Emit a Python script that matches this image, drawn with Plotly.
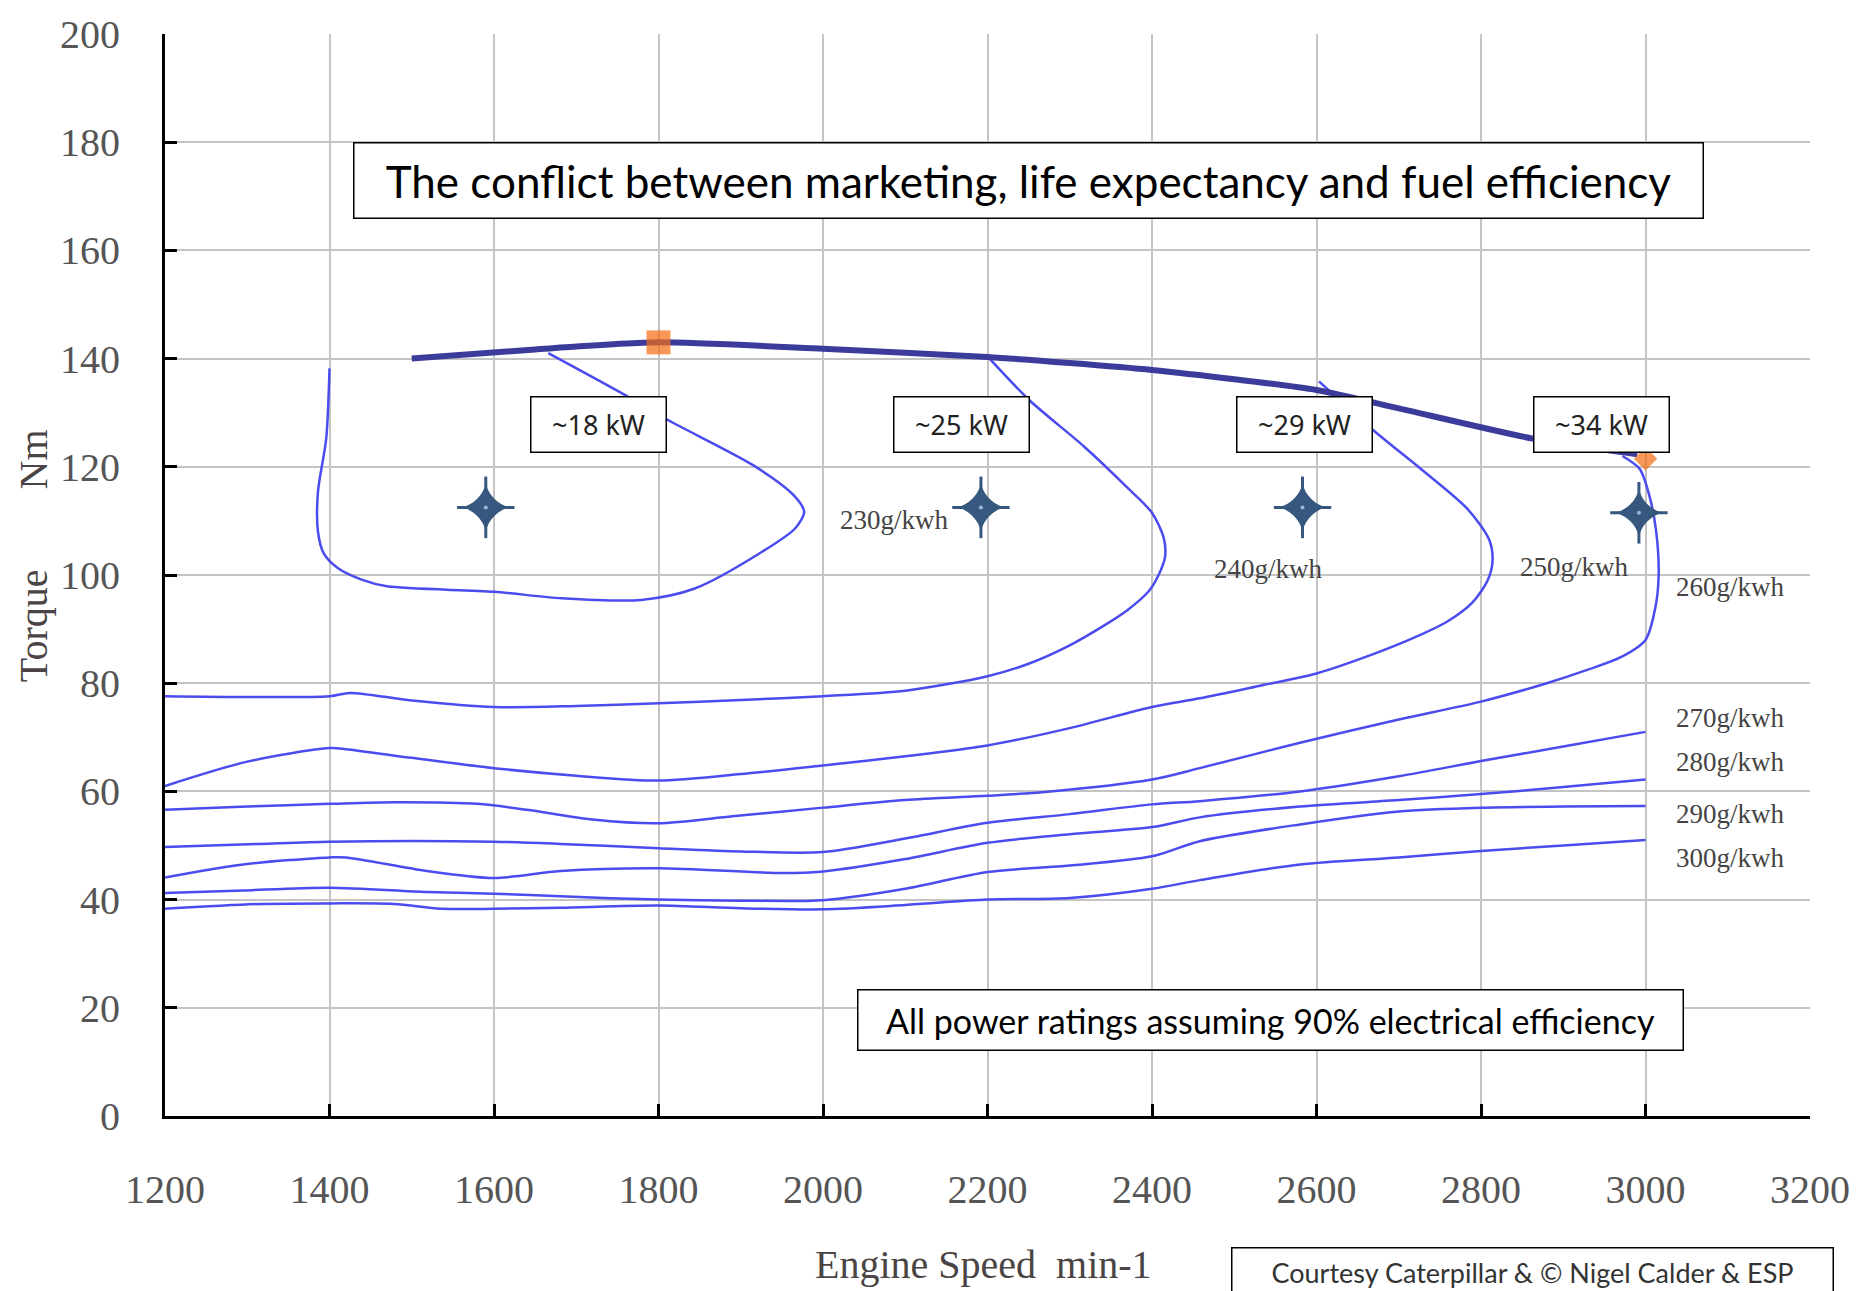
import plotly.graph_objects as go

# ---- axes -------------------------------------------------------------
x_ticks = [1200, 1400, 1600, 1800, 2000, 2200, 2400, 2600, 2800, 3000, 3200]
y_ticks = [0, 20, 40, 60, 80, 100, 120, 140, 160, 180, 200]

# ---- full-load (maximum torque) curve --------------------------------
max_speed = [1500, 1650, 1800, 2000, 2200, 2400, 2600, 2700, 2863, 2990]
max_torque = [140.0, 141.7, 143.0, 141.8, 140.3, 137.9, 134.2, 130.8, 125.2, 122.3]

# ---- specific fuel consumption contours (g/kWh) ----------------------
bsfc_230_speed = [1400, 1396, 1386, 1386, 1393, 1410, 1440, 1470, 1600, 1682, 1779, 1844,
                  1926, 1966, 1977, 1964, 1915, 1812, 1760, 1666]
bsfc_230_torque = [138.2, 125.2, 115.4, 108.0, 104.0, 101.3, 99.1, 97.9, 96.9, 95.7, 95.4, 97.5,
                   104.3, 108.6, 111.7, 114.8, 120.3, 128.6, 133.2, 141.0]

bsfc_240_speed = [1200, 1400, 1425, 1500, 1600, 1700, 1800, 1900, 2000, 2100, 2200,
                  2250, 2300, 2340, 2370, 2396, 2408, 2416, 2414, 2400, 2371, 2317, 2251, 2200]
bsfc_240_torque = [77.6, 77.6, 78.2, 76.8, 75.6, 75.8, 76.3, 76.9, 77.6, 78.6, 81.3,
                   83.6, 87.0, 90.5, 93.5, 97.0, 100.0, 103.5, 107.0, 111.5, 116.0, 123.8, 132.3, 140.4]

bsfc_250_speed = [1200, 1300, 1400, 1420, 1500, 1600, 1700, 1800, 1900, 2000, 2100,
                  2200, 2300, 2400, 2458, 2530, 2600, 2673, 2720, 2760, 2790, 2808,
                  2814, 2810, 2783, 2727, 2672, 2603]
bsfc_250_torque = [61.0, 65.5, 68.0, 67.8, 66.2, 64.3, 62.9, 62.0, 63.2, 64.8, 66.5,
                   68.5, 71.7, 75.6, 77.2, 79.5, 81.8, 85.6, 88.5, 91.5, 95.0, 99.0,
                   102.5, 106.5, 112.3, 119.6, 126.4, 135.8]

bsfc_260_speed = [1200, 1300, 1400, 1480, 1580, 1640, 1720, 1800, 1890, 2000, 2100,
                  2200, 2270, 2400, 2458, 2580, 2700, 2800, 2880, 2930, 2970, 3000,
                  3012, 3016, 3013, 3005, 2993, 2972]
bsfc_260_torque = [56.6, 57.2, 57.7, 58.0, 57.7, 56.6, 54.8, 54.1, 55.4, 57.0, 58.4,
                   59.2, 59.9, 62.2, 64.3, 69.0, 73.3, 76.6, 80.0, 82.5, 84.8, 88.0,
                   94.0, 100.0, 108.0, 114.5, 119.6, 122.0]

bsfc_270_speed = [1200, 1316, 1400, 1600, 1681, 1800, 1900, 2000, 2100, 2200, 2300,
                  2400, 2458, 2580, 2700, 2800, 2900, 3000]
bsfc_270_torque = [49.7, 50.3, 50.7, 50.7, 50.3, 49.5, 48.9, 48.8, 51.3, 54.2, 55.8,
                   57.6, 58.2, 60.0, 62.8, 65.6, 68.3, 71.0]

bsfc_280_speed = [1200, 1295, 1400, 1420, 1518, 1600, 1681, 1800, 1950, 2000, 2100,
                  2200, 2300, 2400, 2458, 2580, 2700, 2800, 2900, 3000]
bsfc_280_torque = [44.1, 46.5, 47.8, 47.8, 45.3, 44.0, 45.3, 45.8, 44.9, 45.2, 47.5,
                   50.5, 52.1, 53.4, 55.2, 57.2, 58.4, 59.5, 60.8, 62.2]

bsfc_290_speed = [1200, 1295, 1400, 1518, 1600, 1681, 1800, 1900, 2000, 2100, 2200,
                  2300, 2400, 2458, 2580, 2700, 2800, 2900, 3000]
bsfc_290_torque = [41.2, 41.7, 42.2, 41.4, 41.1, 40.6, 40.0, 39.8, 39.9, 42.0, 45.1,
                   46.3, 48.0, 50.8, 53.9, 56.3, 57.0, 57.2, 57.3]

bsfc_300_speed = [1200, 1316, 1400, 1478, 1539, 1600, 1681, 1800, 1900, 2000, 2100,
                  2200, 2300, 2400, 2458, 2580, 2700, 2800, 2900, 3000]
bsfc_300_torque = [38.3, 39.2, 39.3, 39.2, 38.3, 38.3, 38.5, 38.9, 38.4, 38.2, 39.0,
                   40.0, 40.3, 42.0, 43.6, 46.5, 47.8, 49.0, 50.0, 51.0]

contour_labels = ["230g/kwh", "240g/kwh", "250g/kwh", "260g/kwh",
                  "270g/kwh", "280g/kwh", "290g/kwh", "300g/kwh"]
contour_label_speed = [2087, 2542, 2914, 3103, 3103, 3103, 3103, 3103]
contour_label_torque = [110.2, 101.2, 101.5, 97.8, 73.5, 65.4, 55.8, 47.7]

# ---- operating points ------------------------------------------------
rated_speed = [1800, 3000]
rated_torque = [143.0, 121.5]
rated_symbols = ["square", "diamond"]

star_speed = [1590, 2192, 2583, 2992]
star_torque = [112.5, 112.5, 112.5, 111.5]

power_labels = ["~18 kW", "~25 kW", "~29 kW", "~34 kW"]
power_label_speed = [1727, 2168, 2585, 2946]
power_label_torque = [127.9, 127.9, 127.9, 127.9]

title_text = "The conflict between marketing, life expectancy and fuel efficiency"
note_text = "All power ratings assuming 90% electrical efficiency"
credit_text = "Courtesy Caterpillar & \u00a9 Nigel Calder & ESP"

# ---- styling ---------------------------------------------------------
CONTOUR_BLUE = "#4b4bef"
MAX_BLUE = "#3b3b9c"
STAR_BLUE = "#36587e"
ORANGE = "#f36c12"
TICK_FONT = "Liberation Serif, serif"
AXIS_FONT = "Liberation Serif, DejaVu Serif, serif"
BOX_FONT = "Lato, Open Sans, sans-serif"
SMALL_BOX_FONT = "Noto Sans, Open Sans, sans-serif"

fig = go.Figure()

contours = [
    (bsfc_230_speed, bsfc_230_torque),
    (bsfc_240_speed, bsfc_240_torque),
    (bsfc_250_speed, bsfc_250_torque),
    (bsfc_260_speed, bsfc_260_torque),
    (bsfc_270_speed, bsfc_270_torque),
    (bsfc_280_speed, bsfc_280_torque),
    (bsfc_290_speed, bsfc_290_torque),
    (bsfc_300_speed, bsfc_300_torque),
]
for sx, ty in contours:
    fig.add_trace(go.Scatter(
        x=sx, y=ty, mode="lines",
        line=dict(color=CONTOUR_BLUE, width=2.5, shape="spline", smoothing=0.8),
        hoverinfo="skip",
    ))

fig.add_trace(go.Scatter(
    x=max_speed, y=max_torque, mode="lines",
    line=dict(color=MAX_BLUE, width=6, shape="spline", smoothing=0.6),
    hoverinfo="skip",
))

fig.add_trace(go.Scatter(
    x=rated_speed, y=rated_torque, mode="markers",
    marker=dict(symbol=rated_symbols, size=[24, 18], color=ORANGE, line=dict(width=0)),
    hoverinfo="skip",
))

# four-pointed stars: a concave body plus thin arms
fig.add_trace(go.Scatter(
    x=star_speed, y=star_torque, mode="markers",
    marker=dict(symbol="line-ns", size=44, color=STAR_BLUE,
                line=dict(width=3, color=STAR_BLUE)),
    hoverinfo="skip",
))
fig.add_trace(go.Scatter(
    x=star_speed, y=star_torque, mode="markers",
    marker=dict(symbol="line-ew", size=41, color=STAR_BLUE,
                line=dict(width=3, color=STAR_BLUE)),
    hoverinfo="skip",
))
fig.add_trace(go.Scatter(
    x=star_speed, y=star_torque, mode="markers",
    marker=dict(symbol="star-diamond", size=34, color=STAR_BLUE, line=dict(width=0)),
    hoverinfo="skip",
))
fig.add_trace(go.Scatter(
    x=star_speed, y=star_torque, mode="markers",
    marker=dict(symbol="circle", size=4, color="#9ab8d8", line=dict(width=0)),
    hoverinfo="skip",
))

annotations = []
for txt, sx, ty in zip(contour_labels, contour_label_speed, contour_label_torque):
    annotations.append(dict(
        x=sx, y=ty, xref="x", yref="y", text=txt, showarrow=False,
        font=dict(family=TICK_FONT, size=27, color="#444444"),
    ))

for txt, sx, ty in zip(power_labels, power_label_speed, power_label_torque):
    annotations.append(dict(
        x=sx, y=ty, xref="x", yref="y", text=txt, showarrow=False,
        font=dict(family=SMALL_BOX_FONT, size=27, color="#222222"),
        bgcolor="white", bordercolor="black", borderwidth=1.5, borderpad=0,
        width=134, height=54,
    ))

annotations.append(dict(
    x=2250, y=173.0, xref="x", yref="y", text=title_text, showarrow=False,
    font=dict(family=BOX_FONT, size=44, color="black"),
    bgcolor="white", bordercolor="black", borderwidth=1.5, borderpad=0,
    width=1348, height=74,
))
annotations.append(dict(
    x=2544, y=17.7, xref="x", yref="y", text=note_text, showarrow=False,
    font=dict(family=BOX_FONT, size=34, color="black"),
    bgcolor="white", bordercolor="black", borderwidth=1.5, borderpad=0,
    width=824, height=59,
))
annotations.append(dict(
    x=0.8316, y=-0.1215, xref="paper", yref="paper", xanchor="center", yanchor="top",
    text=credit_text, showarrow=False,
    font=dict(family=BOX_FONT, size=27, color="#333333"),
    bgcolor="white", bordercolor="black", borderwidth=1.5, borderpad=0,
    width=600, height=48,
))

# axis titles
annotations.append(dict(
    x=-0.0802, y=103.5, xref="paper", yref="y", xanchor="center", yanchor="middle",
    textangle=-90,
    text="Torque" + "\u00a0" * 8 + "Nm", showarrow=False,
    font=dict(family=AXIS_FONT, size=40, color="#4a4444"),
))
annotations.append(dict(
    x=2195, y=-0.137, xref="x", yref="paper", xanchor="center", yanchor="middle",
    text="Engine Speed\u00a0\u00a0min-1", showarrow=False,
    font=dict(family=AXIS_FONT, size=40, color="#4a4444"),
))

fig.update_layout(
    width=1862, height=1291,
    margin=dict(l=165, r=52, t=30, b=175),
    paper_bgcolor="white", plot_bgcolor="white",
    showlegend=False,
    annotations=annotations,
)

fig.update_xaxes(
    range=[1200, 3200], tickvals=x_ticks, ticktext=[str(v) for v in x_ticks],
    showgrid=True, gridcolor="#c4c4c4", gridwidth=2, zeroline=False,
    showline=True, linecolor="black", linewidth=3,
    ticks="inside", ticklen=12, tickwidth=3, tickcolor="black",
    tickfont=dict(family=TICK_FONT, size=40, color="#555555"),
    ticklabelstandoff=36,
)
fig.update_yaxes(
    range=[0, 200], tickvals=y_ticks, ticktext=[str(v) for v in y_ticks],
    showgrid=True, gridcolor="#c4c4c4", gridwidth=2, zeroline=False,
    showline=True, linecolor="black", linewidth=3,
    ticks="inside", ticklen=12, tickwidth=3, tickcolor="black",
    tickfont=dict(family=TICK_FONT, size=40, color="#555555"),
    ticklabelstandoff=34,
)

fig.write_html("out.html")
